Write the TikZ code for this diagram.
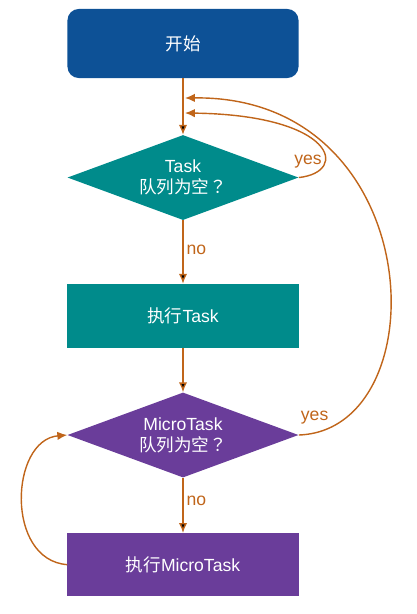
\documentclass[tikz,border=0pt]{standalone}
\usepackage{fontspec}
\setmainfont{Liberation Sans}
\newfontfamily\cjk{Noto Sans CJK SC}
\newfontfamily\cjkmark{Noto Sans CJK JP}
\usetikzlibrary{shapes.geometric, positioning, arrows.meta}

\definecolor{startblue}{HTML}{0D5196}
\definecolor{taskteal}{HTML}{008B8B}
\definecolor{micropurple}{HTML}{6A3D9A}
\definecolor{flow}{HTML}{C0651A}

\tikzset{
  box/.style={rectangle, fill=#1, text=white, minimum width=5.775cm,
    inner sep=0pt, align=center, font=\fontsize{12.5}{15}\selectfont},
  decision/.style={diamond, aspect=2.72, fill=#1, text=white, minimum width=5.775cm,
    minimum height=2.125cm, inner sep=0pt, align=center,
    font=\fontsize{12.5}{15}\selectfont},
  flowline/.style={draw=flow, line width=1pt},
  answer/.style={text=flow, font=\fontsize{12.5}{15}\selectfont, inner sep=2pt}
}

\begin{document}
\begin{tikzpicture}
	[x=0.025cm, y=-0.025cm, on grid, >={Latex[length=7pt,width=6pt]}]
   \useasboundingbox (0,0) rectangle (416,614);
   \node[box=startblue, rounded corners=8pt, minimum height=1.725cm] (start) at (183,43.5) {{\cjk 开始}};
   \node[decision=taskteal] (task_empty) [below=3.35cm of start] {Task\\{\cjk 队列为空}{\cjkmark ？}};
   \node[box=taskteal, minimum height=1.6cm] (run_task) [below=3.46cm of task_empty] {{\cjk 执行}Task};
   \node[decision=micropurple] (micro_empty) [below=2.975cm of run_task] {MicroTask\\{\cjk 队列为空}{\cjkmark ？}};
   \node[box=micropurple, minimum height=1.575cm] (run_micro) [below=3.24cm of micro_empty] {{\cjk 执行}MicroTask};
   \coordinate (back_outer) at (185,98);
   \coordinate (back_inner) at (185,113);
    \path[->, flowline] 
    (start) edge (task_empty)
    (task_empty) 
          edge node[answer, right, pos=0.47] {no} (run_task)
    (run_task) edge (micro_empty)
    (micro_empty)
          edge node[answer, right, pos=0.41] {no} (run_micro);
   % loops back
   \draw[->, flowline] (task_empty.east) .. controls (350,172) and (335,115) .. node[answer, pos=0.3, left] {yes} (back_inner);
   \draw[->, flowline] (micro_empty.east) .. controls (440,430) and (430,95) .. node[answer, pos=0.05, above, xshift=-3pt, yshift=3pt] {yes} (back_outer);
   \draw[->, flowline] (run_micro.west) .. controls (5,560) and (10,440) .. (micro_empty.west);

\end{tikzpicture}
\end{document}
